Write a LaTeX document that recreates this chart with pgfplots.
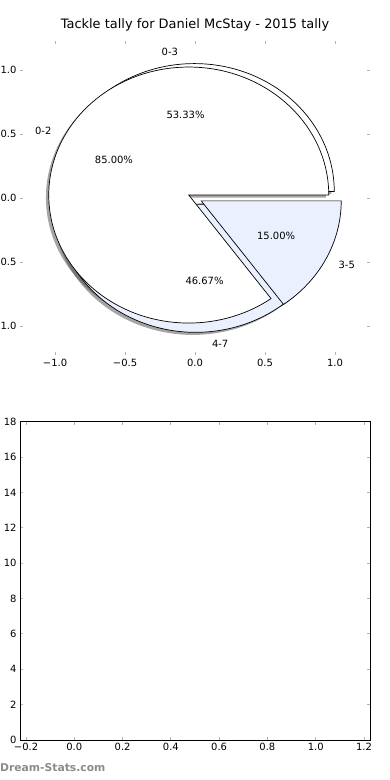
\documentclass[border=0pt]{standalone}
\usepackage{fontspec}
\setmainfont{DejaVu Sans}
\usepackage{pgfplots}
\pgfplotsset{compat=1.18}
\definecolor{pieblue}{HTML}{EAF0FD}
\definecolor{tickgray}{HTML}{B4B4B4}

% ---- data (percent of each wedge) ----
% first pie (drawn first): 0-3 and 4-7
\def\pC{53.33}\def\pD{46.67}
% second pie (drawn on top): 0-2 and 3-5
\def\pA{85.00}\def\pB{15.00}
\def\expl{0.05}

\pgfmathsetmacro\eC{\pC*3.6}
\pgfmathsetmacro\mC{\eC/2}
\pgfmathsetmacro\mD{(\eC+360)/2}
\pgfmathsetmacro\eA{\pA*3.6}
\pgfmathsetmacro\mA{\eA/2}
\pgfmathsetmacro\mB{(\eA+360)/2}
\pgfmathsetmacro\cCx{\expl*cos(\mC)}\pgfmathsetmacro\cCy{\expl*sin(\mC)}
\pgfmathsetmacro\cDx{\expl*cos(\mD)}\pgfmathsetmacro\cDy{\expl*sin(\mD)}
\pgfmathsetmacro\cAx{\expl*cos(\mA)}\pgfmathsetmacro\cAy{\expl*sin(\mA)}
\pgfmathsetmacro\cBx{\expl*cos(\mB)}\pgfmathsetmacro\cBy{\expl*sin(\mB)}

\newcommand\wedgepath[4]{(axis cs:#1,#2) -- (axis cs:{#1+cos(#3)},{#2+sin(#3)}) arc[start angle=#3,end angle=#4,x radius=1,y radius=1] -- cycle}

\begin{document}
\begin{tikzpicture}
\begin{axis}[
  at={(20bp,424.6bp)}, anchor=south west, scale only axis,
  width=350bp, height=314.88bp,
  xmin=-1.25, xmax=1.25, ymin=-1.23, ymax=1.23,
  axis line style={draw=none},
  tick align=inside, major tick length=3bp,
  tick style={draw=tickgray, line width=0.8bp},
  xtick={-1,-0.5,0,0.5,1}, xticklabels={−1.0,−0.5,0.0,0.5,1.0},
  ytick={-1,-0.5,0,0.5,1}, yticklabels={−1.0,−0.5,0.0,0.5,1.0},
  ticklabel style={font=\fontsize{10}{12}\selectfont},
  title={Tackle tally for Daniel McStay - 2015 tally},
  title style={font=\fontsize{13}{15}\selectfont},
  clip=false,
]
% shadows
\fill[black!70, opacity=0.5] \wedgepath{\cCx-0.02}{\cCy-0.02}{0}{\eC};
\fill[black!70, opacity=0.5] \wedgepath{\cDx-0.02}{\cDy-0.02}{\eC}{360};
\fill[black!70, opacity=0.5] \wedgepath{\cAx-0.02}{\cAy-0.02}{0}{\eA};
\fill[black!70, opacity=0.5] \wedgepath{\cBx-0.02}{\cBy-0.02}{\eA}{360};
% wedges
\filldraw[fill=white, draw=black, line width=0.7bp, line join=miter] \wedgepath{\cCx}{\cCy}{0}{\eC};
\filldraw[fill=pieblue, draw=black, line width=0.7bp, line join=miter] \wedgepath{\cDx}{\cDy}{\eC}{360};
\filldraw[fill=white, draw=black, line width=0.7bp, line join=miter] \wedgepath{\cAx}{\cAy}{0}{\eA};
\filldraw[fill=pieblue, draw=black, line width=0.7bp, line join=miter] \wedgepath{\cBx}{\cBy}{\eA}{360};
% labels
\begin{scope}[every node/.style={inner sep=0pt, font=\fontsize{10}{12}\selectfont}]
\node[anchor=east] at (axis cs:{\cCx+1.1*cos(\mC)},{\cCy+1.1*sin(\mC)}) {0-3};
\node[anchor=west] at (axis cs:{\cDx+1.1*cos(\mD)},{\cDy+1.1*sin(\mD)}) {4-7};
\node[anchor=east] at (axis cs:{\cAx+1.1*cos(\mA)},{\cAy+1.1*sin(\mA)}) {0-2};
\node[anchor=west] at (axis cs:{\cBx+1.1*cos(\mB)},{\cBy+1.1*sin(\mB)}) {3-5};
\node at (axis cs:{\cCx+0.6*cos(\mC)},{\cCy+0.6*sin(\mC)}) {53.33\%};
\node at (axis cs:{\cDx+0.6*cos(\mD)},{\cDy+0.6*sin(\mD)}) {46.67\%};
\node at (axis cs:{\cAx+0.6*cos(\mA)},{\cAy+0.6*sin(\mA)}) {85.00\%};
\node at (axis cs:{\cBx+0.6*cos(\mB)},{\cBy+0.6*sin(\mB)}) {15.00\%};
\end{scope}
\end{axis}

\begin{axis}[
  at={(20bp,40bp)}, anchor=south west, scale only axis,
  width=350bp, height=318.3bp,
  xmin=-0.225, xmax=1.225, ymin=0, ymax=18,
  axis line style={black, line width=0.8bp},
  tick align=inside, major tick length=3bp,
  tick style={draw=tickgray, line width=0.8bp},
  xtick={-0.2,0,0.2,0.4,0.6,0.8,1.0,1.2},
  xticklabels={−0.2,0.0,0.2,0.4,0.6,0.8,1.0,1.2},
  ytick={0,2,4,6,8,10,12,14,16,18},
  yticklabels={0,2,4,6,8,10,12,14,16,18},
  ticklabel style={font=\fontsize{10}{12}\selectfont},
]
\end{axis}

\node[anchor=west, inner sep=0pt, text=black!45] at (0bp,12bp) {\fontsize{10.8}{13}\selectfont\bfseries Dream-Stats.com};

\pgfresetboundingbox
\useasboundingbox (0bp,0bp) rectangle (390bp,780bp);
\end{tikzpicture}
\end{document}
